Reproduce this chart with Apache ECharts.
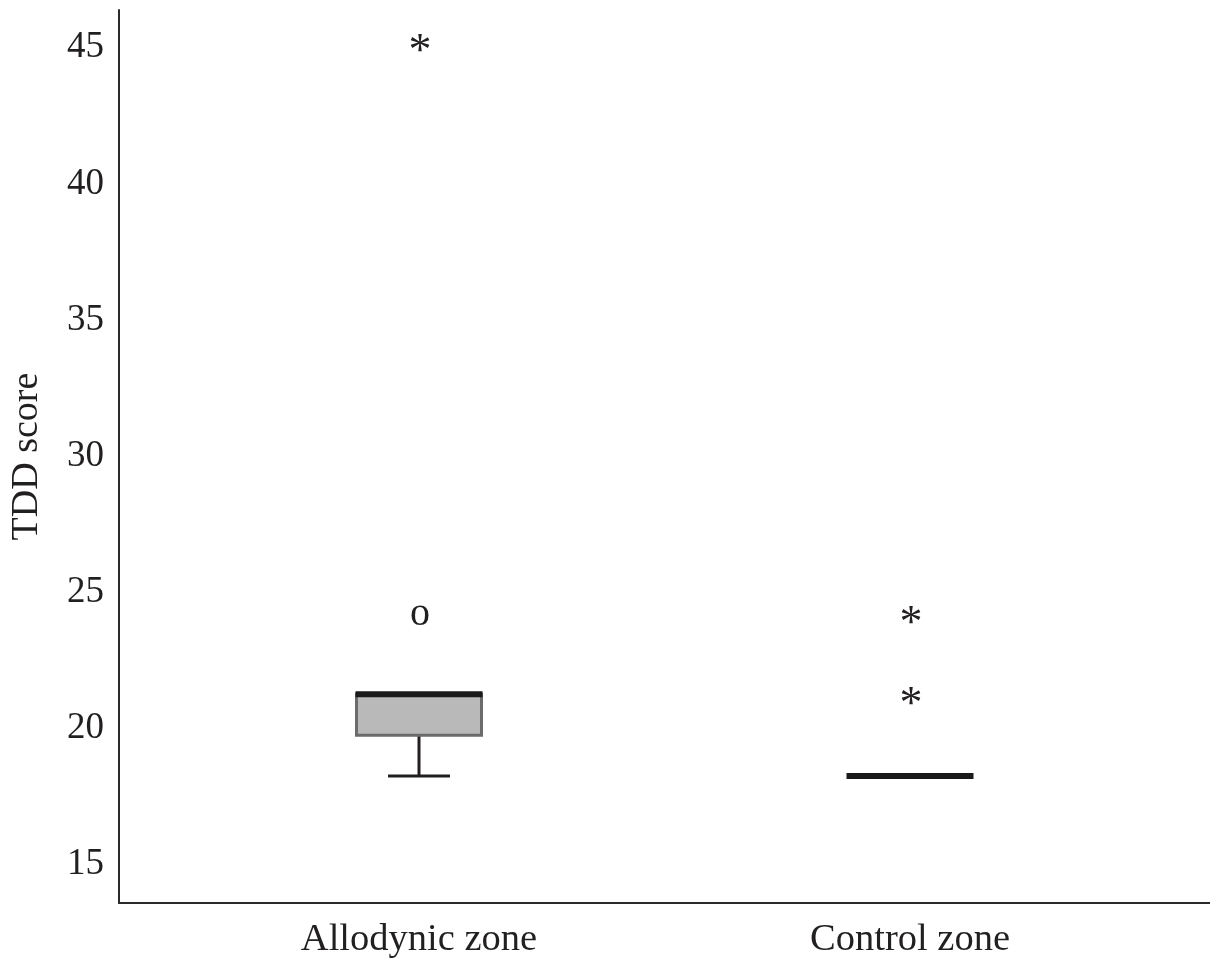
<!DOCTYPE html>
<html>
<head>
<meta charset="utf-8">
<title>TDD score by zone</title>
<script src="https://cdn.jsdelivr.net/npm/echarts@6/dist/echarts.min.js"></script>
<style>
  html, body { margin: 0; padding: 0; background: #ffffff; }
  #chart { width: 1210px; height: 958px; }
</style>
</head>
<body>
<div id="chart"></div>
<script>
// Zones compared on the x axis
const categories = ['Allodynic zone', 'Control zone'];

// Box summaries per zone: [lower whisker, Q1, median, Q3, upper whisker]
const boxStats = [
  [18, 19.5, 21, 21, 21],
  [18, 18, 18, 18, 18]
];

// Outliers: zone index, value, marker ("o" = mild, "*" = extreme)
const outlierZone  = [0, 0, 1, 1];
const outlierValue = [45, 24, 24, 21];
const outlierMark  = ['*', 'o', '*', '*'];

// Y axis tick labels
const yTicks = [15, 20, 25, 30, 35, 40, 45];

const FONT = '"Liberation Serif", "DejaVu Serif", serif';
const INK = '#221f20';
const BOX_WIDTH = 125;   // px
const CAP_WIDTH = 62;    // px

const chart = echarts.init(document.getElementById('chart'), null, { renderer: 'canvas' });

const boxData = boxStats.map((s, i) => [i + 1].concat(s));
const outlierData = outlierZone.map((z, i) => [z + 1, outlierValue[i], outlierMark[i]]);

function renderBox(params, api) {
  const x = api.value(0);
  const lo = api.coord([x, api.value(1)]);
  const q1 = api.coord([x, api.value(2)]);
  const med = api.coord([x, api.value(3)]);
  const q3 = api.coord([x, api.value(4)]);
  const hi = api.coord([x, api.value(5)]);
  const cx = med[0];
  const half = BOX_WIDTH / 2;
  const children = [];

  // lower whisker + cap
  if (lo[1] - q1[1] > 0.5) {
    children.push({ type: 'line', shape: { x1: cx, y1: q1[1], x2: cx, y2: lo[1] },
      style: { stroke: INK, lineWidth: 3 } });
    children.push({ type: 'line', shape: { x1: cx - CAP_WIDTH / 2, y1: lo[1], x2: cx + CAP_WIDTH / 2, y2: lo[1] },
      style: { stroke: INK, lineWidth: 3 } });
  }
  // upper whisker + cap
  if (q3[1] - hi[1] > 0.5) {
    children.push({ type: 'line', shape: { x1: cx, y1: q3[1], x2: cx, y2: hi[1] },
      style: { stroke: INK, lineWidth: 3 } });
    children.push({ type: 'line', shape: { x1: cx - CAP_WIDTH / 2, y1: hi[1], x2: cx + CAP_WIDTH / 2, y2: hi[1] },
      style: { stroke: INK, lineWidth: 3 } });
  }
  // interquartile box
  if (q1[1] - q3[1] > 0.5) {
    children.push({ type: 'rect', shape: { x: cx - half, y: q3[1], width: BOX_WIDTH, height: q1[1] - q3[1] },
      style: { fill: '#b9b9b9', stroke: '#6b6b6b', lineWidth: 3 } });
  }
  // median
  children.push({ type: 'line', shape: { x1: cx - half - 1, y1: med[1], x2: cx + half + 1, y2: med[1] },
    style: { stroke: '#1a1a1a', lineWidth: 6 } });

  return { type: 'group', children: children };
}

function renderOutlier(params, api) {
  const p = api.coord([api.value(0), api.value(1)]);
  const mark = outlierData[params.dataIndex][2];
  const star = mark === '*';
  return {
    type: 'text',
    x: p[0] + 1,
    y: p[1] + (star ? 12 : 2),
    style: {
      text: mark,
      font: (star ? 46 : 40) + 'px ' + FONT,
      fill: INK,
      align: 'center',
      verticalAlign: 'middle'
    }
  };
}

chart.setOption({
  animation: false,
  backgroundColor: '#ffffff',
  grid: { left: 119, right: 0, top: 10, bottom: 55, containLabel: false, outerBoundsMode: 'none' },
  xAxis: {
    type: 'value',
    min: 0.389,
    max: 2.611,
    axisLine: { show: true, lineStyle: { color: '#2a2a2a', width: 2 } },
    axisTick: { show: false },
    splitLine: { show: false },
    axisLabel: {
      customValues: categories.map((c, i) => i + 1),
      formatter: v => categories[Math.round(v) - 1] || '',
      fontFamily: FONT,
      fontSize: 38.5,
      color: INK,
      margin: 17
    }
  },
  yAxis: {
    type: 'value',
    min: 13.336,
    max: 46.13,
    name: 'TDD score',
    nameLocation: 'middle',
    nameGap: 73,
    nameTextStyle: { fontFamily: FONT, fontSize: 38, color: INK },
    axisLine: { show: true, lineStyle: { color: '#2a2a2a', width: 2 } },
    axisTick: { show: false },
    splitLine: { show: false },
    axisLabel: {
      customValues: yTicks,
      formatter: v => '{t|' + v + '}',
      margin: 15,
      rich: {
        t: {
          fontFamily: FONT,
          fontSize: 37,
          color: INK,
          padding: [14, 0, 0, 0]
        }
      }
    }
  },
  series: [
    {
      type: 'custom',
      name: 'box',
      data: boxData,
      renderItem: renderBox,
      encode: { x: 0, y: [1, 2, 3, 4, 5] },
      silent: true
    },
    {
      type: 'custom',
      name: 'outliers',
      data: outlierData.map(d => [d[0], d[1]]),
      renderItem: renderOutlier,
      encode: { x: 0, y: 1 },
      silent: true
    }
  ]
});
</script>
</body>
</html>
